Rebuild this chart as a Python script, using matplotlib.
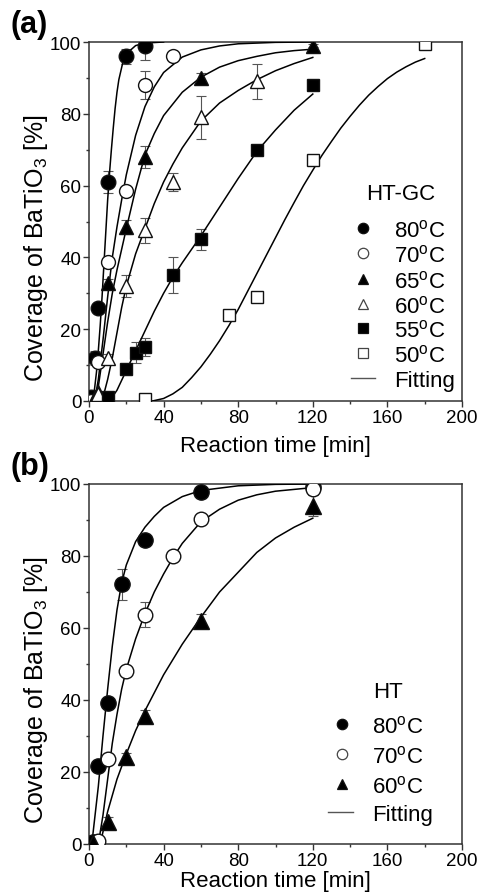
import matplotlib
matplotlib.use('Agg')
import matplotlib.pyplot as plt
from matplotlib.ticker import MultipleLocator

plt.rcParams['font.family'] = ['Liberation Sans', 'DejaVu Sans']
plt.rcParams['mathtext.fontset'] = 'custom'
plt.rcParams['mathtext.rm'] = 'Liberation Sans'
plt.rcParams['mathtext.it'] = 'Liberation Sans:italic'
plt.rcParams['mathtext.bf'] = 'Liberation Sans:bold'

# ---------------- Panel (a): HT-GC data ----------------
a_labels = ['80', '70', '65', '60', '55', '50']
a_t80 = [1, 3, 5, 10, 20, 30]
a_y80 = [1, 12, 26, 61, 96, 99]
a_e80 = [0, 2, 0, 3, 2, 4]
a_t70 = [1, 5, 10, 20, 30, 45]
a_y70 = [0, 11, 38.6, 58.5, 88, 96]
a_e70 = [0, 1, 1.5, 1, 4, 1]
a_t65 = [3, 5, 10, 20, 30, 60, 120]
a_y65 = [1, 2.5, 33, 48.5, 68, 90, 99]
a_e65 = [0, 0, 1, 2, 3, 1.5, 0.5]
a_t60 = [5, 10, 20, 30, 45, 60, 90]
a_y60 = [2, 12, 32, 47.5, 61, 79, 89]
a_e60 = [0, 1, 3, 3.5, 2.5, 6, 5]
a_t55 = [10, 20, 25, 30, 45, 60, 90, 120]
a_y55 = [1, 9, 13.5, 15, 35, 45, 70, 88]
a_e55 = [0, 0.5, 3, 2.5, 5, 3, 1, 1]
a_t50 = [30, 75, 90, 120, 180]
a_y50 = [0.5, 24, 29, 67, 99.5]
a_e50 = [0, 0, 0, 0, 0]

# fitted curves
af_t80 = [1, 2, 3, 4, 5, 6, 7, 8, 9, 10, 11, 12, 13, 14, 15, 16, 18, 20, 25, 30, 40]
af_y80 = [0, 0.8, 3.5, 8, 14, 21, 29, 38, 47, 56, 63.5, 70, 76, 81.5, 86, 89.5, 94, 96.7, 99, 99.7, 100]
af_t70 = [3, 5, 7.5, 10, 12.5, 15, 17.5, 20, 25, 30, 35, 40, 50, 60, 70, 80, 100, 120]
af_y70 = [0, 6, 17, 29, 40, 48.5, 56, 63, 74, 82, 87.5, 91.5, 95.8, 97.8, 98.9, 99.5, 99.9, 100]
af_t65 = [3, 5, 7.5, 10, 12.5, 15, 20, 25, 30, 35, 40, 50, 60, 70, 80, 90, 100, 110, 120]
af_y65 = [0, 4, 13, 22, 30, 36.5, 48, 59, 68.5, 74.5, 79.5, 86, 90.2, 93, 94.8, 96, 97, 97.6, 98]
af_t60 = [7, 10, 12.5, 15, 17.5, 20, 25, 30, 35, 40, 45, 50, 60, 70, 80, 90, 100, 110, 120]
af_y60 = [0, 6, 12, 19, 26, 32, 41, 48, 55, 61, 66, 70.5, 78, 83, 86.5, 89.5, 92, 94, 95.7]
af_t55 = [11, 15, 20, 25, 30, 35, 40, 45, 50, 60, 70, 80, 90, 100, 110, 120]
af_y55 = [0, 3, 8.5, 14, 19.5, 25, 30, 34.5, 38.5, 46, 54, 62, 69.5, 75.5, 81, 85.5]
af_t50 = [34, 40, 45, 50, 55, 60, 65, 70, 75, 80, 85, 90, 95, 100, 105, 110, 115, 120,
          125, 130, 135, 140, 145, 150, 155, 160, 165, 170, 175, 180]
af_y50 = [0, 0.7, 2, 3.8, 6.5, 9.5, 13, 16.8, 21, 25.5, 30.5, 35.5, 40.5, 45.5, 50.5,
          55.3, 60, 64.3, 68.5, 72.3, 76, 79.3, 82.4, 85.2, 87.6, 89.8, 91.6, 93.1, 94.4, 95.4]

# ---------------- Panel (b): HT data ----------------
b_labels = ['80', '70', '60']
b_t80 = [2, 5, 10, 17.5, 30, 60, 120]
b_y80 = [0.5, 21.6, 39.2, 72.2, 84.5, 97.9, 99.1]
b_e80 = [0, 1, 1, 4.3, 1, 1, 1]
b_t70 = [5, 10, 20, 30, 45, 60, 120]
b_y70 = [0.8, 23.6, 48.1, 63.7, 79.9, 90.3, 98.6]
b_e70 = [1, 1, 1, 3.5, 1, 1, 1]
b_t60 = [2, 10, 20, 30, 60, 120]
b_y60 = [0.3, 6, 24.3, 35.6, 62, 94]
b_e60 = [0, 1.5, 1, 1.5, 2, 3]

bf_t80 = [1.5, 5, 7.5, 10, 12.5, 15, 17.5, 20, 25, 30, 35, 40, 50, 60, 80, 100, 120]
bf_y80 = [0, 16, 30, 43, 55, 65, 72.5, 77.5, 84, 88, 91, 93.5, 96.5, 98.2, 99.5, 99.9, 100]
bf_t70 = [5, 7.5, 10, 12.5, 15, 17.5, 20, 25, 30, 35, 40, 45, 50, 60, 70, 80, 90, 100, 120]
bf_y70 = [0, 8, 18, 28, 36, 43, 48.5, 57, 64, 70, 75, 79.5, 83.5, 89.5, 93, 95.5, 97, 98, 99]
bf_t60 = [6, 10, 15, 20, 25, 30, 35, 40, 50, 60, 70, 80, 90, 100, 110, 120]
bf_y60 = [0, 9, 18, 25, 31.5, 37, 42, 47, 55.5, 63, 70, 75.5, 81, 85, 88, 90.5]

x_ticks = [0, 40, 80, 120, 160, 200]
y_ticks = [0, 20, 40, 60, 80, 100]

FILL = 'black'
EDGE = '#111111'
SPINE = '#333333'
FIG_W, FIG_H = 478, 895


def style_axes(ax, labelpad_x):
    ax.set_xlim(0, 200)
    ax.set_ylim(0, 100)
    ax.set_xticks(x_ticks)
    ax.set_yticks(y_ticks)
    ax.xaxis.set_minor_locator(MultipleLocator(20))
    ax.yaxis.set_minor_locator(MultipleLocator(10))
    ax.tick_params(which='both', direction='out', top=False, right=False,
                   color=SPINE, width=1.0)
    ax.tick_params(which='major', length=4, labelsize=13.5, pad=1.5)
    ax.tick_params(which='minor', length=2.5)
    for s in ax.spines.values():
        s.set_color(SPINE)
        s.set_linewidth(1.1)
    ax.set_xlabel('Reaction time [min]', fontsize=16, labelpad=labelpad_x)
    ax.set_ylabel('Coverage of BaTiO$_3$ [%]', fontsize=18)
    ax.yaxis.set_label_coords(-0.105, 0.43)


def draw_series(ax, t, y, e, marker, filled, ms):
    ax.errorbar(t, y, yerr=e, fmt='none', ecolor='#555555', elinewidth=0.8,
                capsize=3.5, capthick=0.8, zorder=2)
    ax.plot(t, y, linestyle='none', marker=marker, ms=ms,
            mfc=FILL if filled else 'white', mec=EDGE, mew=1.0, zorder=4)


def manual_legend(ax, ax_px, title, title_cx, title_base, series, labels,
                  mark_x, text_x, rows, line_x0, line_x1):
    """ax_px = (left, top, right, bottom) of the axes in figure pixels."""
    l, t, r, b = ax_px

    def fx(px):
        return (px - l) / (r - l)

    def fy(py):
        return (b - py) / (b - t)

    leg_ms = {'o': 7.5, '^': 7.5, 's': 6.5}
    ax.text(fx(title_cx), fy(title_base), title, transform=ax.transAxes,
            ha='center', va='baseline', fontsize=16)
    for (sr, lab, ry) in zip(series, labels, rows[:-1]):
        m, f = sr[3], sr[4]
        ax.plot([fx(mark_x)], [fy(ry)], transform=ax.transAxes, linestyle='none',
                marker=m, ms=leg_ms[m], mfc=FILL if f else 'white',
                mec=EDGE if f else '#444444', mew=0.9, clip_on=False)
        ax.text(fx(text_x), fy(ry + 8.5), lab + r'$^{\mathrm{o}}$C',
                transform=ax.transAxes, ha='left', va='baseline', fontsize=16)
    ry = rows[-1]
    ax.plot([fx(line_x0), fx(line_x1)], [fy(ry), fy(ry)], transform=ax.transAxes,
            color='#555555', lw=1.0, clip_on=False)
    ax.text(fx(text_x), fy(ry + 8.5), 'Fitting', transform=ax.transAxes,
            ha='left', va='baseline', fontsize=16)


fig = plt.figure(figsize=(FIG_W / 100, FIG_H / 100), dpi=100)
A_PX = (89, 43, 462, 402)
B_PX = (89, 485, 462, 845)


def rect(px):
    l, t, r, b = px
    return [l / FIG_W, 1 - b / FIG_H, (r - l) / FIG_W, (b - t) / FIG_H]


axa = fig.add_axes(rect(A_PX))
axb = fig.add_axes(rect(B_PX))

# ---- panel a ----
for ft, fy_ in [(af_t80, af_y80), (af_t70, af_y70), (af_t65, af_y65),
                (af_t60, af_y60), (af_t55, af_y55), (af_t50, af_y50)]:
    axa.plot(ft, fy_, color='black', lw=1.1, zorder=3)

a_series = [
    (a_t80, a_y80, a_e80, 'o', True, 10.5),
    (a_t70, a_y70, a_e70, 'o', False, 10),
    (a_t65, a_y65, a_e65, '^', True, 10.5),
    (a_t60, a_y60, a_e60, '^', False, 10.5),
    (a_t55, a_y55, a_e55, 's', True, 9),
    (a_t50, a_y50, a_e50, 's', False, 9),
]
for t, y, e, m, f, ms in a_series:
    draw_series(axa, t, y, e, m, f, ms)

style_axes(axa, 7)
manual_legend(axa, A_PX, 'HT-GC', 401, 200, a_series, a_labels,
              mark_x=363, text_x=394,
              rows=[228.5, 254, 279.5, 304.5, 329, 353.5, 379],
              line_x0=351, line_x1=375)

# ---- panel b ----
for ft, fy_ in [(bf_t80, bf_y80), (bf_t70, bf_y70), (bf_t60, bf_y60)]:
    axb.plot(ft, fy_, color='black', lw=1.1, zorder=3)

b_series = [
    (b_t80, b_y80, b_e80, 'o', True, 11),
    (b_t70, b_y70, b_e70, 'o', False, 10.5),
    (b_t60, b_y60, b_e60, '^', True, 11),
]
for t, y, e, m, f, ms in b_series:
    draw_series(axb, t, y, e, m, f, ms)

style_axes(axb, 1)
manual_legend(axb, B_PX, 'HT', 388, 698, b_series, b_labels,
              mark_x=342, text_x=372,
              rows=[725, 755, 785, 813],
              line_x0=328, line_x1=353)

fig.text(10 / FIG_W, 1 - 33 / FIG_H, '(a)', fontsize=22, fontweight='bold', va='baseline')
fig.text(10 / FIG_W, 1 - 475 / FIG_H, '(b)', fontsize=22, fontweight='bold', va='baseline')

fig.savefig('out.png', dpi=100)
